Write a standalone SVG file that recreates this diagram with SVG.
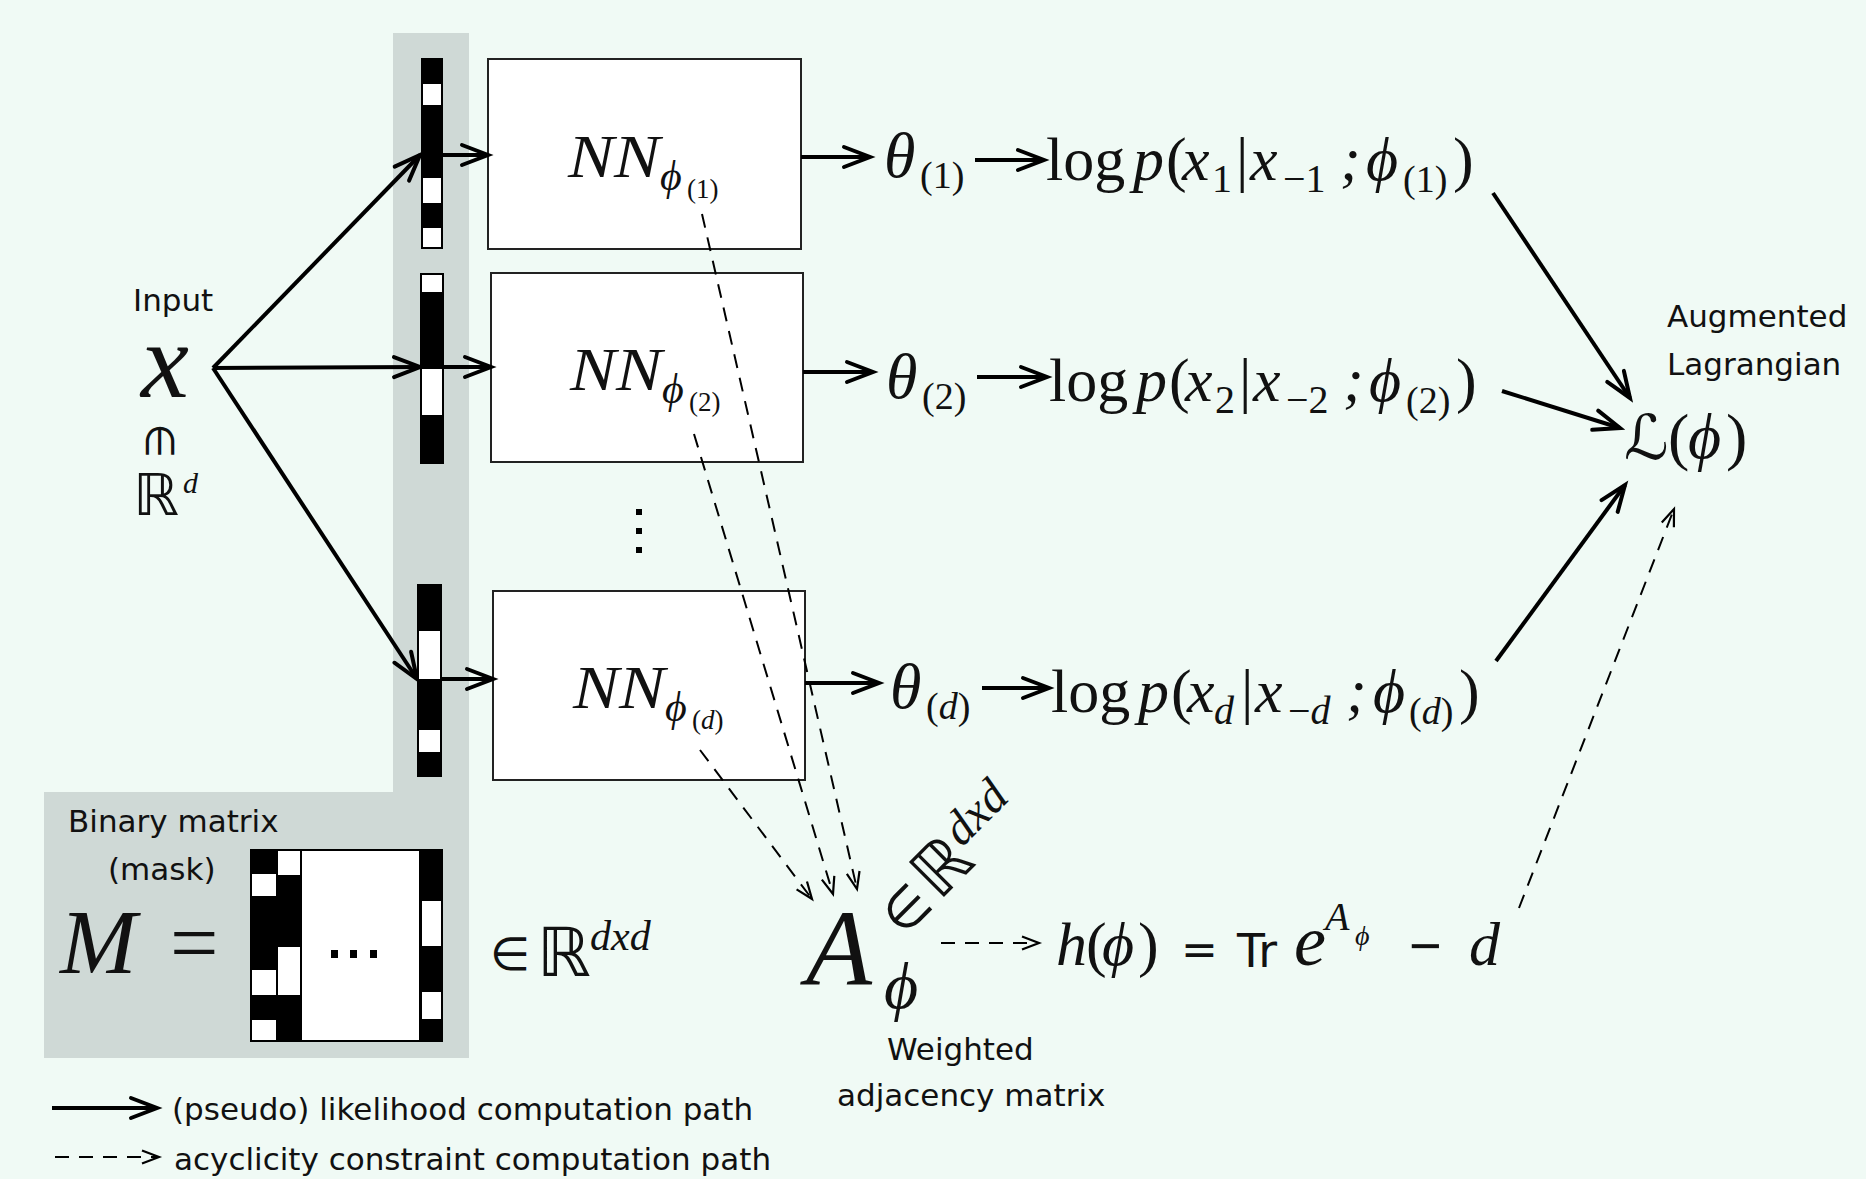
<svg xmlns="http://www.w3.org/2000/svg" width="1866" height="1179" viewBox="0 0 1866 1179">
<defs>
<style>
.s{font-family:"DejaVu Sans",sans-serif;font-size:31px;fill:#111}
.m{font-family:"Liberation Serif","DejaVu Serif",serif;fill:#111}
.ds{font-family:"DejaVu Sans",sans-serif;fill:#111}
.i{font-style:italic}
.box{fill:#fff;stroke:#222;stroke-width:2}
.sol{stroke:#000;stroke-width:4;fill:none;marker-end:url(#ah)}
.dash{stroke:#000;stroke-width:2;fill:none;stroke-dasharray:14 10;marker-end:url(#dh)}
.blk{fill:#000}
.wht{fill:#fff}
</style>
<marker id="ah" markerUnits="userSpaceOnUse" markerWidth="34" markerHeight="26" refX="29" refY="13" orient="auto" overflow="visible">
<path d="M3,3 L29,13 L3,23" fill="none" stroke="#000" stroke-width="4" stroke-linecap="round"/>
</marker>
<marker id="dh" markerUnits="userSpaceOnUse" markerWidth="20" markerHeight="16" refX="18" refY="8" orient="auto" overflow="visible">
<path d="M1,1.5 L18,8 L1,14.5" fill="none" stroke="#000" stroke-width="2.2"/>
</marker>
</defs>
<rect width="1866" height="1179" fill="#f0faf5"/>
<path d="M393,33 H469 V1058 H44 V792 H393 Z" fill="#cfd9d6"/>

<g id="input">
<text class="s" x="133" y="311">Input</text>
<text class="m i" x="141" y="397" font-size="108">x</text>
<text class="ds" x="160" y="455" font-size="40" text-anchor="middle" transform="rotate(90 160 441)">∈</text>
<text class="ds" x="133" y="515" font-size="58">ℝ</text>
<text class="m i" x="183" y="493" font-size="30">d</text>
</g>

<g id="mask1">
<rect class="blk" x="421" y="58" width="22" height="191"/>
<rect class="wht" x="423" y="84" width="18" height="21"/>
<rect class="wht" x="423" y="178" width="18" height="25"/>
<rect class="wht" x="423" y="228" width="18" height="19"/>
</g>
<g id="mask2">
<rect class="blk" x="420" y="273" width="24" height="191"/>
<rect class="wht" x="422" y="275" width="20" height="17"/>
<rect class="wht" x="422" y="369" width="20" height="46"/>
</g>
<g id="maskd">
<rect class="blk" x="417" y="584" width="25" height="193"/>
<rect class="wht" x="419" y="631" width="21" height="48"/>
<rect class="wht" x="419" y="730" width="21" height="22"/>
</g>

<g id="nn1">
<rect class="box" x="488" y="59" width="313" height="190"/>
<text class="m i" x="568" y="177" font-size="62" textLength="92" lengthAdjust="spacingAndGlyphs">NN</text>
<text class="m i" x="660" y="190" font-size="42">ϕ</text>
<text class="m" x="687" y="198" font-size="27">(1)</text>
</g>
<g id="nn2">
<rect class="box" x="491" y="273" width="312" height="189"/>
<text class="m i" x="570" y="390" font-size="62" textLength="92" lengthAdjust="spacingAndGlyphs">NN</text>
<text class="m i" x="662" y="403" font-size="42">ϕ</text>
<text class="m" x="689" y="411" font-size="27">(2)</text>
</g>
<g id="dots">
<rect class="blk" x="636" y="509" width="6" height="6"/>
<rect class="blk" x="636" y="528" width="6" height="6"/>
<rect class="blk" x="636" y="547" width="6" height="6"/>
</g>
<g id="nnd">
<rect class="box" x="493" y="591" width="312" height="189"/>
<text class="m i" x="573" y="708" font-size="62" textLength="92" lengthAdjust="spacingAndGlyphs">NN</text>
<text class="m i" x="665" y="721" font-size="42">ϕ</text>
<text class="m" x="692" y="729" font-size="27">(<tspan class="i">d</tspan>)</text>
</g>

<g id="row1">
<text class="m i" x="884" y="177" font-size="64">θ</text>
<text class="m" x="920" y="188" font-size="38">(1)</text>
<text class="m" font-size="62" y="180"><tspan x="1046">log</tspan><tspan x="1133" class="i">p</tspan><tspan x="1166">(</tspan><tspan x="1182" class="i">x</tspan><tspan x="1236">|</tspan><tspan x="1250" class="i">x</tspan><tspan x="1340" class="i">;</tspan><tspan x="1366" class="i">ϕ</tspan><tspan x="1453">)</tspan></text>
<text class="m" font-size="40" y="192"><tspan x="1212">1</tspan><tspan x="1283">−1</tspan></text>
<text class="m" font-size="38" x="1403" y="192">(1)</text>
</g>
<g id="row2">
<text class="m i" x="886" y="398" font-size="64">θ</text>
<text class="m" x="922" y="409" font-size="38">(2)</text>
<text class="m" font-size="62" y="401"><tspan x="1049">log</tspan><tspan x="1136" class="i">p</tspan><tspan x="1169">(</tspan><tspan x="1185" class="i">x</tspan><tspan x="1239">|</tspan><tspan x="1253" class="i">x</tspan><tspan x="1343" class="i">;</tspan><tspan x="1369" class="i">ϕ</tspan><tspan x="1456">)</tspan></text>
<text class="m" font-size="40" y="413"><tspan x="1215">2</tspan><tspan x="1286">−2</tspan></text>
<text class="m" font-size="38" x="1406" y="413">(2)</text>
</g>
<g id="rowd">
<text class="m i" x="890" y="708" font-size="64">θ</text>
<text class="m" x="926" y="719" font-size="38">(<tspan class="i">d</tspan>)</text>
<text class="m" font-size="62" y="712"><tspan x="1051">log</tspan><tspan x="1138" class="i">p</tspan><tspan x="1171">(</tspan><tspan x="1187" class="i">x</tspan><tspan x="1241">|</tspan><tspan x="1255" class="i">x</tspan><tspan x="1346" class="i">;</tspan><tspan x="1373" class="i">ϕ</tspan><tspan x="1459">)</tspan></text>
<text class="m" font-size="40" y="724"><tspan x="1214" class="i">d</tspan><tspan x="1288">−<tspan class="i">d</tspan></tspan></text>
<text class="m" font-size="38" x="1409" y="724">(<tspan class="i">d</tspan>)</text>
</g>

<g id="lagrangian">
<text class="s" x="1667" y="327">Augmented</text>
<text class="s" x="1667" y="375">Lagrangian</text>
<text class="ds" x="1624" y="459" font-size="62">ℒ</text>
<text class="m" font-size="64" y="458"><tspan x="1668">(</tspan><tspan x="1688" class="i">ϕ</tspan><tspan x="1726">)</tspan></text>
</g>

<g id="maskmatrix">
<text class="s" x="68" y="832">Binary matrix</text>
<text class="s" x="108" y="880">(mask)</text>
<text class="m i" x="60" y="973" font-size="92">M</text>
<text class="m" x="170" y="972" font-size="86">=</text>
<rect class="blk" x="250" y="849" width="193" height="193"/>
<rect class="wht" x="252" y="874" width="24" height="22"/>
<rect class="wht" x="252" y="970" width="24" height="25"/>
<rect class="wht" x="252" y="1020" width="24" height="20"/>
<rect class="wht" x="278" y="851" width="22" height="24"/>
<rect class="wht" x="278" y="947" width="22" height="48"/>
<rect class="wht" x="302" y="851" width="117" height="189"/>
<rect class="wht" x="422" y="901" width="19" height="45"/>
<rect class="wht" x="422" y="992" width="19" height="27"/>
<rect class="blk" x="331" y="950" width="7" height="8"/>
<rect class="blk" x="350" y="950" width="7" height="8"/>
<rect class="blk" x="370" y="950" width="7" height="8"/>
<text class="ds" x="490" y="970" font-size="46">∈</text>
<text class="ds" x="537" y="976" font-size="68">ℝ</text>
<text class="m i" x="590" y="950" font-size="42">dxd</text>
</g>

<g id="adjacency">
<text class="m i" x="806" y="985" font-size="108">A</text>
<text class="m i" x="884" y="1008" font-size="66">ϕ</text>
<text transform="translate(903,938) rotate(-45)"><tspan class="ds" font-size="52">∈</tspan><tspan class="ds" font-size="68" dx="6">ℝ</tspan><tspan class="m i" font-size="48" dy="-22">dxd</tspan></text>
<text class="s" x="887" y="1060">Weighted</text>
<text class="s" x="837" y="1106">adjacency matrix</text>
</g>

<g id="constraint">
<text class="m i" x="1056" y="965" font-size="62">h</text>
<text class="m" font-size="62" y="965"><tspan x="1086">(</tspan><tspan x="1102" class="i">ϕ</tspan><tspan x="1138">)</tspan></text>
<text class="ds" x="1181" y="965" font-size="44">=</text>
<text class="ds" x="1237" y="967" font-size="46" textLength="40" lengthAdjust="spacingAndGlyphs">Tr</text>
<text class="m i" x="1294" y="965" font-size="72">e</text>
<text class="m i" x="1325" y="930" font-size="40">A</text>
<text class="m i" x="1355" y="945" font-size="28">ϕ</text>
<text x="1409" y="965" font-size="56" font-family="Liberation Sans, sans-serif" fill="#111">−</text>
<text class="m i" x="1469" y="965" font-size="62">d</text>
</g>

<g id="legend">
<text class="s" x="172" y="1120">(pseudo) likelihood computation path</text>
<text class="s" x="174" y="1170">acyclicity constraint computation path</text>
</g>

<g id="connectors">
<line class="sol" x1="213" y1="368" x2="420" y2="155"/>
<line class="sol" x1="213" y1="368" x2="420" y2="367"/>
<line class="sol" x1="213" y1="368" x2="417" y2="679"/>
<line class="sol" x1="443" y1="155" x2="488" y2="155"/>
<line class="sol" x1="444" y1="367" x2="491" y2="367"/>
<line class="sol" x1="442" y1="679" x2="493" y2="679"/>
<line class="sol" x1="801" y1="157" x2="870" y2="157"/>
<line class="sol" x1="975" y1="160" x2="1044" y2="160"/>
<line class="sol" x1="803" y1="372" x2="873" y2="372"/>
<line class="sol" x1="977" y1="377" x2="1047" y2="377"/>
<line class="sol" x1="805" y1="683" x2="879" y2="683"/>
<line class="sol" x1="982" y1="688" x2="1049" y2="688"/>
<line class="sol" x1="1493" y1="193" x2="1630" y2="398"/>
<line class="sol" x1="1502" y1="391" x2="1620" y2="428"/>
<line class="sol" x1="1496" y1="661" x2="1625" y2="485"/>
<line class="dash" x1="702" y1="214" x2="857" y2="889"/>
<line class="dash" x1="694" y1="434" x2="833" y2="894"/>
<line class="dash" x1="700" y1="750" x2="812" y2="899"/>
<line class="dash" x1="941" y1="943" x2="1039" y2="943"/>
<line class="dash" x1="1519" y1="908" x2="1674" y2="509"/>
<line class="sol" x1="52" y1="1108" x2="157" y2="1108"/>
<line class="dash" x1="55" y1="1157" x2="159" y2="1157"/>
</g>
</svg>
